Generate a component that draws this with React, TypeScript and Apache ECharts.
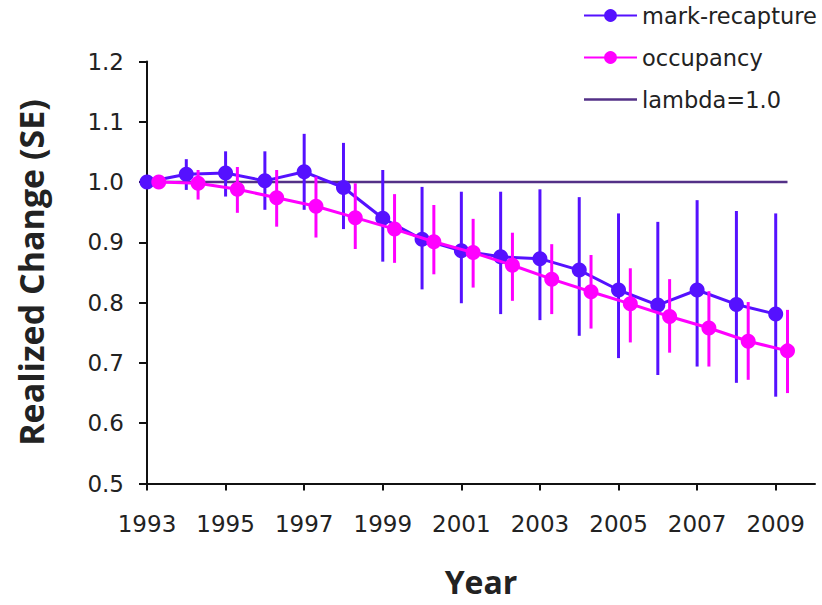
import React, { useEffect, useRef } from "react";
import * as echarts from "echarts";

const years = [1993, 1994, 1995, 1996, 1997, 1998, 1999, 2000, 2001, 2002, 2003, 2004, 2005, 2006, 2007, 2008, 2009];
const xTickLabels = [1993, 1995, 1997, 1999, 2001, 2003, 2005, 2007, 2009];

const mrMean = [1.0, 1.013, 1.015, 1.002, 1.017, 0.991, 0.94, 0.905, 0.886, 0.876, 0.873, 0.854, 0.821, 0.796, 0.821, 0.797, 0.781];
const mrLow = [1.0, 0.987, 0.976, 0.954, 0.954, 0.922, 0.868, 0.822, 0.799, 0.781, 0.771, 0.745, 0.708, 0.68, 0.694, 0.667, 0.644];
const mrHigh = [1.0, 1.038, 1.051, 1.051, 1.08, 1.065, 1.02, 0.992, 0.984, 0.984, 0.988, 0.975, 0.948, 0.934, 0.97, 0.952, 0.948];

const occMean = [1.0, 0.998, 0.988, 0.974, 0.96, 0.941, 0.922, 0.901, 0.883, 0.862, 0.839, 0.818, 0.798, 0.777, 0.758, 0.736, 0.72];
const occLow = [1.0, 0.971, 0.949, 0.926, 0.908, 0.889, 0.866, 0.847, 0.825, 0.803, 0.781, 0.757, 0.734, 0.717, 0.694, 0.672, 0.65];
const occHigh = [1.0, 1.02, 1.025, 1.02, 1.009, 0.998, 0.98, 0.962, 0.939, 0.916, 0.897, 0.879, 0.857, 0.839, 0.819, 0.801, 0.788];

const occOffset = 0.3; // occupancy points are drawn slightly right of each year
const lambdaValue = 1.0;

const BLUE = "#5511ff";
const PINK = "#ff00ff";
const LAMBDA = "#533087";

function errorBarSeries(name: string, xs: number[], low: number[], high: number[], color: string, z: number) {
  return {
    type: "custom",
    name,
    z,
    silent: true,
    data: xs.map((x, i) => [x, low[i], high[i]]),
    renderItem: (params: any, api: any) => {
      const p1 = api.coord([api.value(0), api.value(1)]);
      const p2 = api.coord([api.value(0), api.value(2)]);
      return {
        type: "line",
        shape: { x1: p1[0], y1: p1[1], x2: p2[0], y2: p2[1] },
        style: { stroke: color, lineWidth: 3 },
      };
    },
  };
}

export default function App() {
  const ref = useRef<HTMLDivElement>(null);
  useEffect(() => {
    if (!ref.current) return;
    const chart = echarts.init(ref.current, null, { renderer: "svg" });
    const labelFont = "DejaVu Sans";
    const occX = years.map((y) => y + occOffset);
    chart.setOption({
      animation: false,
      backgroundColor: "#ffffff",
      grid: { left: 147, right: 7, top: 61.5, bottom: 121.5, containLabel: false, outerBoundsMode: "none" },
      legend: {
        orient: "vertical",
        left: 583,
        top: 4,
        padding: 0,
        itemWidth: 53,
        itemHeight: 16,
        itemGap: 19,
        data: [
          "mark-recapture",
          "occupancy",
          { name: "lambda=1.0", icon: "path://M0,0H100V4.5H0Z" },
        ],
        textStyle: { fontFamily: labelFont, fontSize: 22.5, color: "#222222", lineHeight: 22 },
      },
      xAxis: {
        type: "value",
        min: 1993,
        max: 2010,
        name: "Year",
        nameLocation: "middle",
        nameGap: 82,
        nameTextStyle: { fontFamily: "Open Sans", fontWeight: "bold", fontSize: 32, lineHeight: 32, color: "#222222" },
        splitLine: { show: false },
        axisLine: { lineStyle: { color: "#111111", width: 2 } },
        axisTick: { show: true, length: 7, inside: false, customValues: xTickLabels, lineStyle: { color: "#111111", width: 2 } },
        axisLabel: {
          customValues: xTickLabels,
          margin: 29,
          fontFamily: labelFont,
          fontSize: 23,
          color: "#222222",
          formatter: (v: number) => String(v),
        },
      },
      yAxis: {
        type: "value",
        min: 0.5,
        max: 1.2,
        interval: 0.1,
        name: "Realized Change (SE)",
        nameLocation: "middle",
        nameGap: 99,
        nameTextStyle: { fontFamily: "Open Sans", fontWeight: "bold", fontSize: 34, color: "#222222" },
        splitLine: { show: false },
        axisLine: { show: true, lineStyle: { color: "#111111", width: 2 } },
        axisTick: { show: true, length: 8, lineStyle: { color: "#111111", width: 2 } },
        axisLabel: {
          margin: 23,
          fontFamily: labelFont,
          fontSize: 23,
          color: "#222222",
          formatter: (v: number) => v.toFixed(1),
        },
      },
      series: [
        {
          type: "line",
          name: "lambda=1.0",
          symbol: "none",
          z: 1,
          data: [
            [years[0], lambdaValue],
            [years[years.length - 1] + occOffset, lambdaValue],
          ],
          lineStyle: { color: LAMBDA, width: 2.5 },
          itemStyle: { color: LAMBDA },
        },
        errorBarSeries("mr-err", years, mrLow, mrHigh, BLUE, 2),
        {
          type: "line",
          name: "mark-recapture",
          symbol: "circle",
          symbolSize: 15,
          z: 3,
          data: years.map((y, i) => [y, mrMean[i]]),
          lineStyle: { color: BLUE, width: 3 },
          itemStyle: { color: BLUE },
        },
        errorBarSeries("occ-err", occX, occLow, occHigh, PINK, 4),
        {
          type: "line",
          name: "occupancy",
          symbol: "circle",
          symbolSize: 15,
          z: 5,
          data: occX.map((x, i) => [x, occMean[i]]),
          lineStyle: { color: PINK, width: 3 },
          itemStyle: { color: PINK },
        },
      ],
    });
    return () => chart.dispose();
  }, []);
  return (
    <div
      ref={ref}
      style={{ position: "absolute", left: 0, top: 0, width: 822, height: 605, background: "#fff" }}
    />
  );
}
